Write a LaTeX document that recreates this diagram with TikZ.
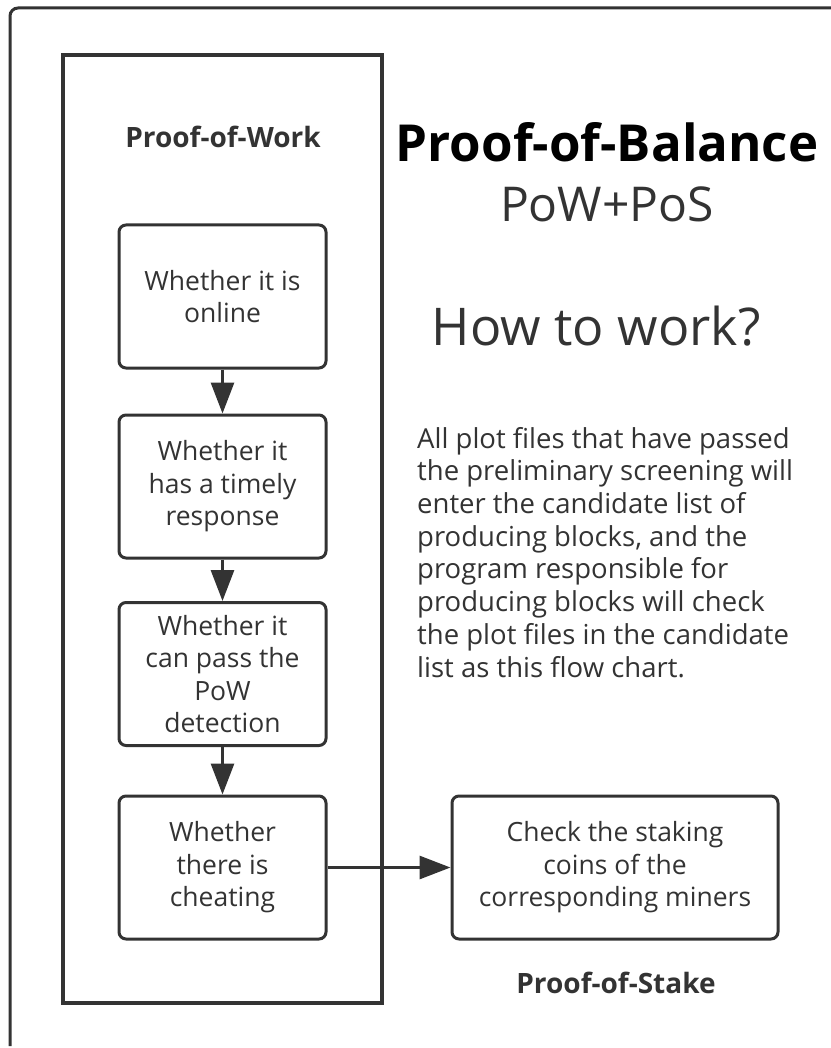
\documentclass[tikz,border=0pt]{standalone}
\usepackage{fontspec}
\setmainfont{Open Sans}
\usetikzlibrary{arrows.meta}
\definecolor{ink}{HTML}{333333}

\begin{document}
\begin{tikzpicture}[x=1pt,y=-1pt,
	check/.style={draw=ink,line width=3pt,rounded corners=7pt,minimum width=207pt,minimum height=143pt,align=center,text=ink,font=\fontsize{26.5}{32.5}\selectfont,inner sep=0pt},
	flow/.style={draw=ink,line width=3pt,-{Triangle[length=31pt,width=23pt]}},
	caption/.style={text=ink,anchor=base,font=\fontsize{28}{32}\bfseries\selectfont}]
	\useasboundingbox (0,0) rectangle (830,1048);
	% frames
	\draw [ink,line width=3pt,rounded corners=8pt] (10,1046) -- (10,8) -- (845,8);
	\draw [ink,line width=4pt] (63,55) rectangle (382,1003);
	\node [caption] (pow) at (223,148) {Proof-of-Work};
	% checks
	\node [check] (online) at (222.5,296.5) {Whether it is\\online};
	\node [check] (timely) at (222.5,486.5) {Whether it\\has a timely\\response};
	\node [check] (detect) at (222.5,674) {Whether it\\can pass the\\PoW\\detection};
	\node [check] (cheat) at (222.5,867.5) {Whether\\there is\\cheating};
	\node [check,minimum width=326pt] (stake) at (615,867.5) {Check the staking\\coins of the\\corresponding miners};
	\draw [flow] (online) -- (timely);
	\draw [flow] (timely) -- (detect);
	\draw [flow] (detect) -- (cheat);
	\draw [flow] (cheat) -- (stake);
	\node [caption] (pos) at (616,993) {Proof-of-Stake};
	% titles
	\node [anchor=base,font=\fontsize{51}{56}\bfseries\selectfont,text=black] (title) at (607,162) {Proof-of-Balance};
	\node [anchor=base,font=\fontsize{48}{54}\selectfont,text=ink] (sub) at (607,222) {PoW+PoS};
	\node [anchor=base,font=\fontsize{52}{58}\selectfont,text=ink] (how) at (596,345) {How to work?};
	\node [anchor=base west,align=left,text=ink,inner sep=0pt,font=\fontsize{27.5}{32.7}\selectfont] (note) at (417,677) {All plot files that have passed\\the preliminary screening will\\enter the candidate list of\\producing blocks, and the\\program responsible for\\producing blocks will check\\the plot files in the candidate\\list as this flow chart.};
\end{tikzpicture}
\end{document}
